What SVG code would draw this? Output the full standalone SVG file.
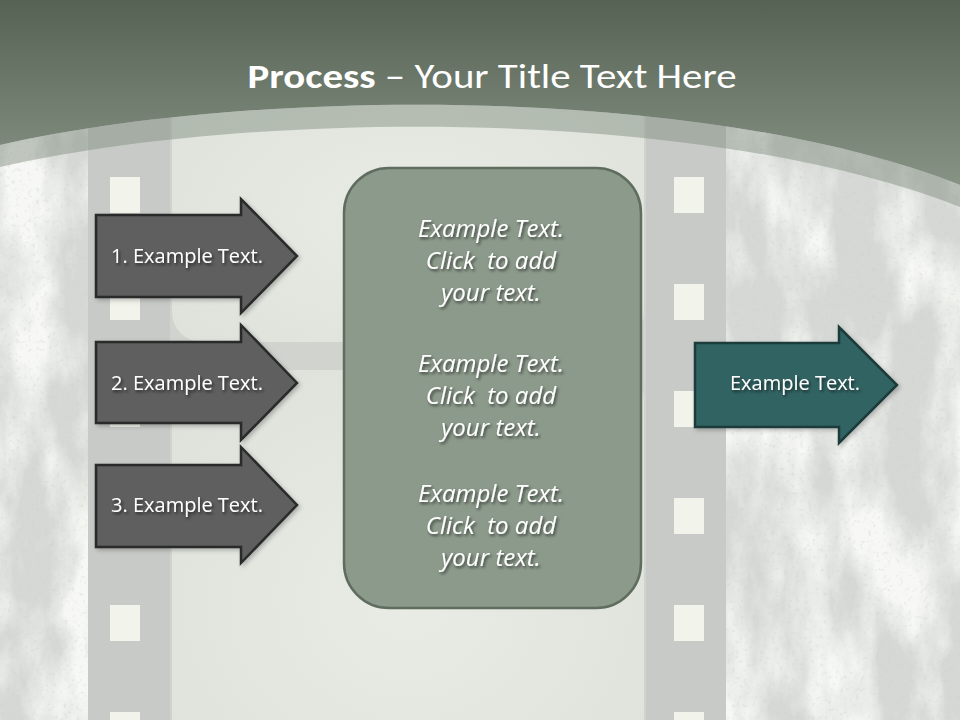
<svg xmlns="http://www.w3.org/2000/svg" width="960" height="720" viewBox="0 0 960 720">
  <defs>
    <linearGradient id="hdr" x1="0" y1="0" x2="0" y2="1">
      <stop offset="0" stop-color="#566254"/>
      <stop offset="1" stop-color="#879485"/>
    </linearGradient>
    <radialGradient id="inner" cx="0.5" cy="0.55" r="0.7">
      <stop offset="0" stop-color="#e9ece5"/>
      <stop offset="1" stop-color="#dde1da"/>
    </radialGradient>
    <filter id="grunge" x="0" y="0" width="100%" height="100%">
      <feTurbulence type="fractalNoise" baseFrequency="0.018 0.008" numOctaves="5" seed="11" result="n"/>
      <feColorMatrix in="n" type="matrix" values="0 0 0 0 0.93  0 0 0 0 0.94  0 0 0 0 0.91  0 0 0 -3 1.85" result="w"/>
      <feComposite in="w" in2="SourceGraphic" operator="in"/>
    </filter>
    <filter id="speck" x="0" y="0" width="100%" height="100%">
      <feTurbulence type="fractalNoise" baseFrequency="0.25" numOctaves="2" seed="5" result="n"/>
      <feColorMatrix in="n" type="matrix" values="0 0 0 0 0.6  0 0 0 0 0.63  0 0 0 0 0.6  0 0 0 3 -1.75" result="d"/>
      <feComposite in="d" in2="SourceGraphic" operator="in"/>
    </filter>
    <filter id="tshadow" x="-10%" y="-30%" width="120%" height="160%">
      <feDropShadow dx="1.5" dy="2" stdDeviation="1.5" flood-color="#000" flood-opacity="0.6"/>
    </filter>
    <filter id="sshadow" x="-10%" y="-10%" width="125%" height="125%">
      <feDropShadow dx="2" dy="2" stdDeviation="2" flood-color="#000" flood-opacity="0.25"/>
    </filter>
    <style>
      .band { fill: #c8cac7; }
      .hole { fill: #f2f4ec; }
      .arrowL { fill: #5e5e5e; stroke: #2b2b2b; stroke-width: 2.5; stroke-linejoin: miter; }
      .arrowR { fill: #326464; stroke: #1c3a3a; stroke-width: 2.5; }
      .lbl { font-family: 'Open Sans', 'DejaVu Sans', sans-serif; font-size: 20px; fill: #ffffff; text-anchor: middle; }
      .box { fill: #8c9a8b; stroke: #606d5e; stroke-width: 2.5; }
      .it { font-family: 'Open Sans', 'DejaVu Sans', sans-serif; font-style: italic; font-size: 24px; fill: #ffffff; text-anchor: middle; }
      .title { font-family: 'Carlito', 'Open Sans', sans-serif; font-size: 34px; fill: #ffffff; }
    </style>
  </defs>

  <!-- background -->
  <rect x="0" y="0" width="960" height="720" fill="#d5d8d4"/>
  <rect x="0" y="0" width="960" height="720" fill="#d5d8d4" filter="url(#grunge)"/>
  <rect x="0" y="0" width="960" height="720" fill="#d5d8d4" filter="url(#speck)" opacity="0.5"/>

  <!-- film strip -->
  <g id="film">
    <rect x="170" y="0" width="476" height="720" fill="#d1d4ce"/>
    <rect x="172" y="60" width="472" height="282" rx="30" fill="url(#inner)"/>
    <rect x="172" y="370" width="472" height="420" rx="30" fill="url(#inner)"/>
    <rect class="band" x="88" y="0" width="82" height="720"/>
    <rect class="band" x="646" y="0" width="80" height="720"/>
    <rect class="hole" x="110" y="177" width="30" height="36"/>
    <rect class="hole" x="110" y="284" width="30" height="36"/>
    <rect class="hole" x="110" y="391" width="30" height="36"/>
    <rect class="hole" x="110" y="498" width="30" height="36"/>
    <rect class="hole" x="110" y="605" width="30" height="36"/>
    <rect class="hole" x="110" y="712" width="30" height="36"/>
    <rect class="hole" x="674" y="177" width="30" height="36"/>
    <rect class="hole" x="674" y="284" width="30" height="36"/>
    <rect class="hole" x="674" y="391" width="30" height="36"/>
    <rect class="hole" x="674" y="498" width="30" height="36"/>
    <rect class="hole" x="674" y="605" width="30" height="36"/>
    <rect class="hole" x="674" y="712" width="30" height="36"/>
  </g>

  <!-- header -->
  <g id="header">
    <path d="M0,145 C250,88 700,83 960,185 L960,207 C700,105 250,110 0,167 Z" fill="#7d8a7c" opacity="0.45"/>
    <path d="M0,0 H960 V185 C700,83 250,88 0,145 Z" fill="url(#hdr)"/>
    <text class="title" x="492" y="88" text-anchor="middle" textLength="489" lengthAdjust="spacingAndGlyphs"><tspan font-weight="bold">Process</tspan> – Your Title Text Here</text>
  </g>

  <g id="connectors"/>

  <g id="step1">
    <path class="arrowL" filter="url(#sshadow)" d="M96,215 H241 V199 L297,256 L241,313 V297 H96 Z"/>
    <text class="lbl" x="187" y="263" filter="url(#tshadow)">1. Example Text.</text>
  </g>
  <g id="step2">
    <path class="arrowL" filter="url(#sshadow)" d="M96,342 H241 V325 L297,383 L241,440 V423 H96 Z"/>
    <text class="lbl" x="187" y="390" filter="url(#tshadow)">2. Example Text.</text>
  </g>
  <g id="step3">
    <path class="arrowL" filter="url(#sshadow)" d="M96,465 H241 V447 L297,505 L241,563 V547 H96 Z"/>
    <text class="lbl" x="187" y="512" filter="url(#tshadow)">3. Example Text.</text>
  </g>

  <g id="center">
    <rect class="box" x="344" y="168" width="297" height="440" rx="45"/>
    <g filter="url(#tshadow)">
      <text class="it" x="491" y="237">Example Text.</text>
      <text class="it" x="491" y="269" xml:space="preserve">Click  to add</text>
      <text class="it" x="491" y="301">your text.</text>
      <text class="it" x="491" y="372">Example Text.</text>
      <text class="it" x="491" y="404" xml:space="preserve">Click  to add</text>
      <text class="it" x="491" y="436">your text.</text>
      <text class="it" x="491" y="502">Example Text.</text>
      <text class="it" x="491" y="534" xml:space="preserve">Click  to add</text>
      <text class="it" x="491" y="566">your text.</text>
    </g>
  </g>

  <g id="result">
    <path class="arrowR" filter="url(#sshadow)" d="M695,343 H839 V327 L897,385 L839,443 V427 H695 Z"/>
    <text class="lbl" x="795" y="390" filter="url(#tshadow)">Example Text.</text>
  </g>
</svg>
